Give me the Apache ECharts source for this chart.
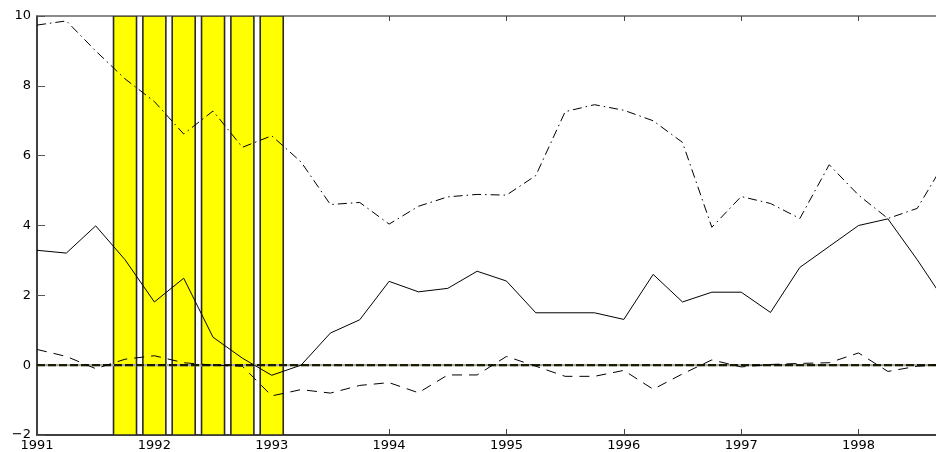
<!DOCTYPE html>
<html>
<head>
<meta charset="utf-8">
<script src="https://cdn.jsdelivr.net/npm/echarts@6/dist/echarts.min.js"></script>
<style>
html,body{margin:0;padding:0;background:#fff;overflow:hidden;}
#c{width:936px;height:452px;}
</style>
</head>
<body>
<div id="c"></div>
<script>
// quarterly dates
var dates = [1991, 1991.25, 1991.5, 1991.75, 1992, 1992.25, 1992.5, 1992.75,
             1993, 1993.25, 1993.5, 1993.75, 1994, 1994.25, 1994.5, 1994.75,
             1995, 1995.25, 1995.5, 1995.75, 1996, 1996.25, 1996.5, 1996.75,
             1997, 1997.25, 1997.5, 1997.75, 1998, 1998.25, 1998.5, 1998.75];
// solid line
var solidValues = [3.29, 3.21, 3.99, 3.02, 1.81, 2.49, 0.80, 0.20,
                   -0.29, 0.00, 0.92, 1.30, 2.40, 2.10, 2.20, 2.69,
                   2.41, 1.50, 1.50, 1.50, 1.31, 2.60, 1.81, 2.09,
                   2.09, 1.51, 2.80, 3.40, 4.00, 4.19, 3.02, 1.76];
// dash-dot line
var dashDotValues = [9.74, 9.86, 9.00, 8.20, 7.55, 6.62, 7.28, 6.24,
                     6.57, 5.82, 4.60, 4.66, 4.04, 4.55, 4.82, 4.89,
                     4.87, 5.43, 7.26, 7.46, 7.30, 7.00, 6.38, 3.95,
                     4.83, 4.63, 4.20, 5.74, 4.87, 4.20, 4.49, 5.90];
// dashed line
var dashedValues = [0.45, 0.25, -0.10, 0.17, 0.27, 0.07, 0.00, -0.03,
                    -0.88, -0.70, -0.80, -0.58, -0.50, -0.79, -0.28, -0.28,
                    0.25, -0.03, -0.32, -0.32, -0.15, -0.69, -0.25, 0.15,
                    -0.05, 0.02, 0.05, 0.07, 0.35, -0.18, -0.03, 0.02];
// shaded periods (bar centres), bar top and base
var barCenters = [1991.75, 1992, 1992.25, 1992.5, 1992.75, 1993];
var barTop = 10;
var barBase = -2;
// zero reference line
var zeroLevel = 0;
// axis ranges (the visible window ends before the last quarter)
var xMin = 1991, xMax = 1998.66, xInterval = 1;
var yMin = -2, yMax = 10, yInterval = 2;

var BAR_HALF = 0.098;

function pairs(vals) { return dates.map(function (d, i) { return [d, vals[i]]; }); }
var zeroData = [[xMin, zeroLevel], [dates[dates.length - 1], zeroLevel]];

var chart = echarts.init(document.getElementById('c'), null, {renderer: 'canvas'});
var font = 'DejaVu Sans';
chart.setOption({
  animation: false,
  backgroundColor: '#fff',
  grid: {left: 37, top: 16, right: 0, bottom: 9, containLabel: false},
  xAxis: [{
    type: 'value', min: xMin, max: xMax, interval: xInterval, position: 'bottom',
    axisLine: {show: true, onZero: false, lineStyle: {color: '#000', width: 1.5}},
    axisTick: {show: true, inside: true, length: 6, lineStyle: {color: '#444', width: 1}},
    axisLabel: {show: true, margin: 4, color: '#000', fontFamily: font, fontSize: 13,
      showMaxLabel: false,
      formatter: function (v) { return Math.abs(v - Math.round(v)) < 1e-9 ? String(Math.round(v)) : ''; }},
    splitLine: {show: false}
  }, {
    type: 'value', min: xMin, max: xMax, interval: xInterval, position: 'top',
    axisLine: {show: true, onZero: false, lineStyle: {color: '#666', width: 1.5}},
    axisTick: {show: true, inside: true, length: 5, lineStyle: {color: '#444', width: 1}},
    axisLabel: {show: false},
    splitLine: {show: false}
  }],
  yAxis: [{
    type: 'value', min: yMin, max: yMax, interval: yInterval, position: 'left',
    axisLine: {show: true, onZero: false, lineStyle: {color: '#000', width: 1.5}},
    axisTick: {show: true, inside: true, length: 8, lineStyle: {color: '#555', width: 1}},
    axisLabel: {show: true, margin: 6, color: '#000', fontFamily: font, fontSize: 13,
      formatter: function (v) { return String(v).replace('-', '\u2212'); }},
    splitLine: {show: false}
  }],
  series: [{
    type: 'custom',
    z: 1,
    clip: true,
    data: barCenters.map(function (c) { return [c, barTop, barBase]; }),
    encode: {x: 0, y: [1, 2]},
    renderItem: function (params, api) {
      var c = api.value(0);
      var p1 = api.coord([c - BAR_HALF, api.value(1)]);
      var p2 = api.coord([c + BAR_HALF, api.value(2)]);
      return {
        type: 'rect',
        shape: {x: p1[0], y: p1[1], width: p2[0] - p1[0], height: p2[1] - p1[1]},
        style: {fill: '#ffff00', stroke: '#2a2a2a', lineWidth: 1.6}
      };
    }
  }, {
    type: 'line', z: 2, data: zeroData, symbol: 'none', silent: true, clip: true,
    lineStyle: {color: '#a8a8a8', width: 2.2}
  }, {
    type: 'line', z: 3, data: zeroData, symbol: 'none', silent: true, clip: true,
    lineStyle: {color: '#1c1c00', width: 2.2, type: [8, 3]}
  }, {
    type: 'line', z: 4, data: pairs(solidValues), symbol: 'none', clip: true,
    lineStyle: {color: '#000', width: 1}
  }, {
    type: 'line', z: 4, data: pairs(dashDotValues), symbol: 'none', clip: true,
    lineStyle: {color: '#000', width: 1, type: [9, 4, 1.5, 4]}
  }, {
    type: 'line', z: 4, data: pairs(dashedValues), symbol: 'none', clip: true,
    lineStyle: {color: '#000', width: 1, type: [10, 7]}
  }]
});
</script>
</body>
</html>
